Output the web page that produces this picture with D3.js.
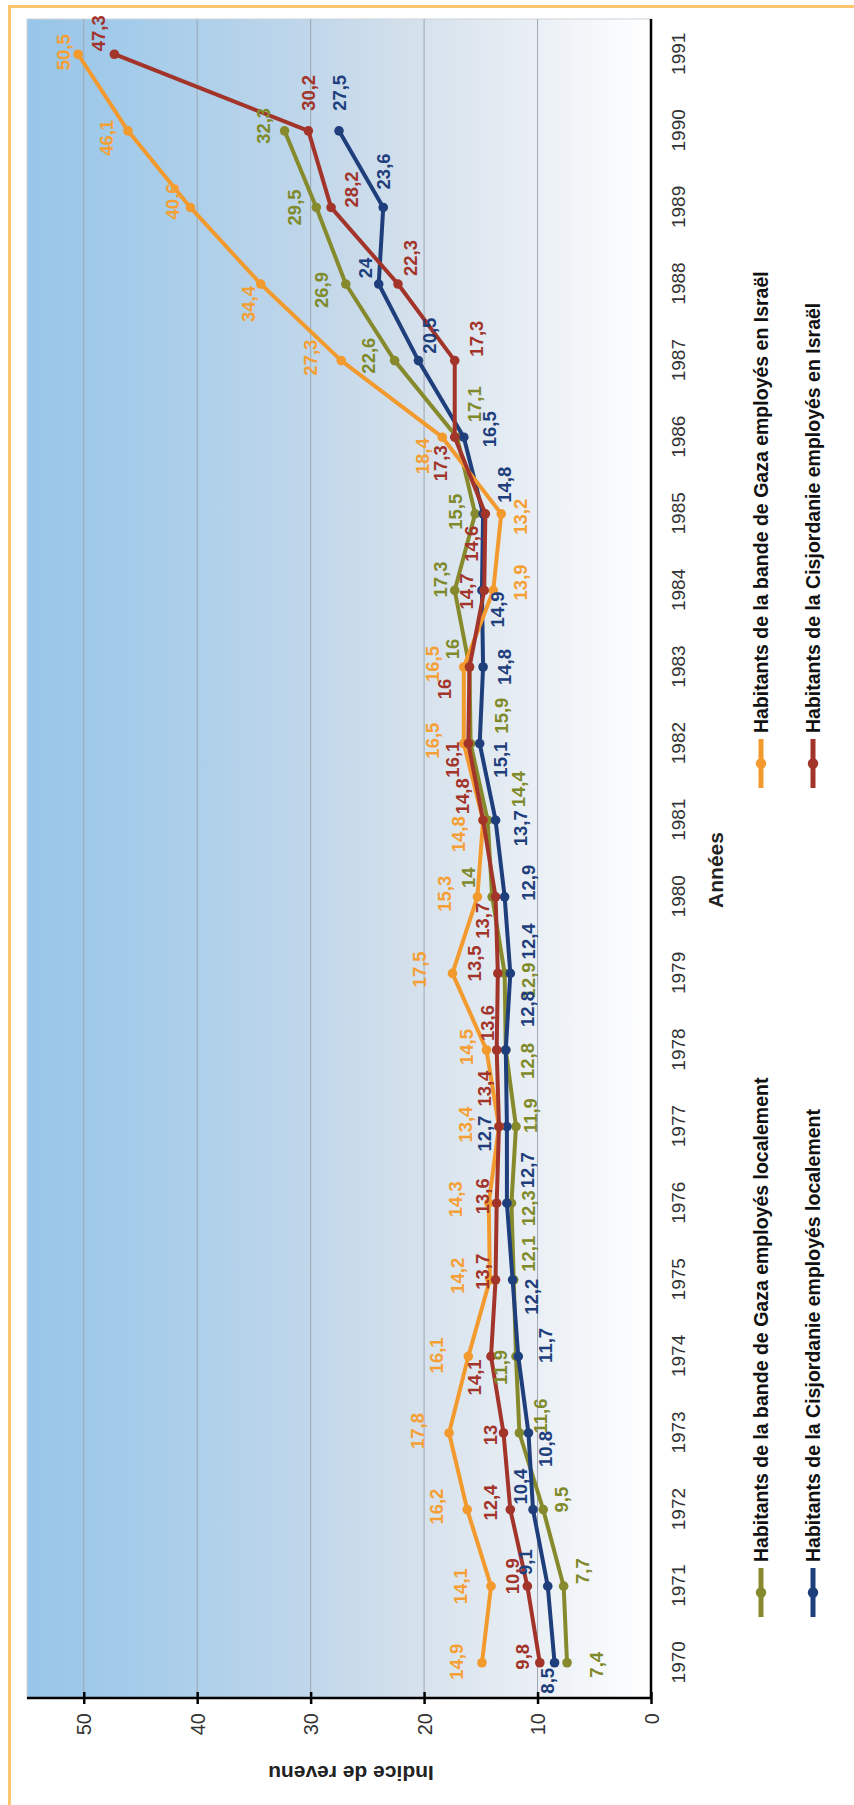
<!DOCTYPE html>
<html><head><meta charset="utf-8">
<script src="https://cdn.jsdelivr.net/npm/d3@7"></script>
<style>html,body{margin:0;padding:0;background:#fff}svg{display:block}</style>
</head><body><svg id="c" width="854" height="1805"></svg>
<script>
// ---------- DATA ----------
const years = [1970,1971,1972,1973,1974,1975,1976,1977,1978,1979,1980,1981,1982,1983,1984,1985,1986,1987,1988,1989,1990,1991];
const valueTicks = [0,10,20,30,40,50];
const seriesNames = [
  "Habitants de la bande de Gaza employés localement",
  "Habitants de la Cisjordanie employés localement",
  "Habitants de la bande de Gaza employés en Israël",
  "Habitants de la Cisjordanie employés en Israël"
];
const gazaLocal   = [7.4,7.7,9.5,11.6,11.9,12.1,12.3,11.9,12.8,12.9,14,14.4,15.9,16,17.3,15.5,17.1,22.6,26.9,29.5,32.3,null];
const cisLocal    = [8.5,9.1,10.4,10.8,11.7,12.2,12.7,12.7,12.8,12.4,12.9,13.7,15.1,14.8,14.9,14.8,16.5,20.5,24,23.6,27.5,null];
const gazaIsrael  = [14.9,14.1,16.2,17.8,16.1,14.2,14.3,13.4,14.5,17.5,15.3,14.8,16.5,16.5,13.9,13.2,18.4,27.3,34.4,40.6,46.1,50.5];
const cisIsrael   = [9.8,10.9,12.4,13,14.1,13.7,13.6,13.4,13.6,13.5,13.7,14.8,16.1,16,14.7,14.6,17.3,17.3,22.3,28.2,30.2,47.3];

// label placement offsets (as seen on the page: [dx, dy]) — layout only
const offGazaLocal  = [[29,2],[19,-15],[18,-10],[21,-17],[-15,11],[15,-26],[17,5],[15,-11],[22,11],[24,7],[-24,-19],[31,-31],[31,-28],[-17,-18],[-14,-11],[-20,-2],[18,-33],[-26,-5],[-24,6],[-22,0],[-21,-5],[0,0]];
const offCisLocal   = [[-7,18],[-22,-24],[-13,-23],[17,16],[27,-11],[19,17],[21,-33],[-22,7],[22,-41],[18,-32],[24,-14],[25,8],[21,16],[21,0],[16,19],[21,-29],[26,-8],[11,-25],[-13,-16],[0,-36],[0,-38],[0,0]];
const offGazaIsrael = [[-25,-1],[-31,0],[-31,-3],[-32,-2],[-32,-1],[-32,-4],[-33,-4],[-33,-2],[-20,-3],[-33,-4],[-33,-3],[-25,14],[-31,-3],[-31,-3],[27,-8],[19,3],[-20,19],[-31,-3],[-12,20],[-18,-6],[-21,7],[-15,-2]];
const offCisIsrael  = [[-17,-6],[-15,-10],[-20,-7],[-13,2],[-17,21],[-13,-8],[-14,-7],[-14,-38],[-9,-27],[-23,-10],[-13,24],[-21,-24],[-16,16],[-25,22],[-18,1],[-14,30],[-14,26],[22,-22],[13,-26],[20,-18],[0,-38],[-16,-21]];

const colors = ["#878a2c", "#1f3e7c", "#f29a2e", "#a2342a"];
const labelColors = ["#7f8a2a", "#1f3e7c", "#f5a036", "#a2342a"];

const series = [
  {name: seriesNames[0], values: gazaLocal,  off: offGazaLocal,  color: colors[0], lc: labelColors[0]},
  {name: seriesNames[1], values: cisLocal,   off: offCisLocal,   color: colors[1], lc: labelColors[1]},
  {name: seriesNames[2], values: gazaIsrael, off: offGazaIsrael, color: colors[2], lc: labelColors[2]},
  {name: seriesNames[3], values: cisIsrael,  off: offCisIsrael,  color: colors[3], lc: labelColors[3]}
];

// ---------- DRAW ----------
const FONT = "Arial, 'Liberation Sans', Helvetica, sans-serif";
const svg = d3.select("#c");
svg.append("rect").attr("width", 854).attr("height", 1805).attr("fill", "#fff");
svg.append("path").attr("d", "M854,6.5H9.5V1805").attr("fill", "none")
   .attr("stroke", "#ffc56f").attr("stroke-width", 3);

// chart is drawn in its natural orientation then turned a quarter-turn counter-clockwise
const g = svg.append("g").attr("transform", "translate(0,1805) rotate(-90)");
const PX0 = 107, PX1 = 1786, PY0 = 27, PY1 = 651;

const x = d3.scalePoint().domain(years).range([PX0, PX1]).padding(0.46);
const y = d3.scaleLinear().domain([0, 55]).range([PY1, PY0]);

const defs = svg.append("defs");
const grad = defs.append("linearGradient").attr("id", "bg").attr("x1", 0).attr("y1", 0).attr("x2", 0).attr("y2", 1);
[[0, "#98c5e8"], [0.18, "#a5ccea"], [0.4, "#bad4ea"], [0.6, "#d2dfeb"], [0.8, "#e8eef4"], [1, "#ffffff"]]
  .forEach(([o, c]) => grad.append("stop").attr("offset", o).attr("stop-color", c));

g.append("rect").attr("x", PX0).attr("y", PY0).attr("width", PX1 - PX0).attr("height", PY1 - PY0)
  .attr("fill", "url(#bg)").attr("stroke", "#cdd3d9").attr("stroke-width", 1);

// grid
g.append("g").selectAll("line").data(valueTicks.filter(d => d > 0)).join("line")
  .attr("x1", PX0).attr("x2", PX1).attr("y1", d => y(d)).attr("y2", d => y(d))
  .attr("stroke", "#9ba6b1").attr("stroke-width", 1);

// value axis
const ya = g.append("g").attr("transform", `translate(${PX0},0)`)
  .call(d3.axisLeft(y).tickValues(valueTicks).tickSizeOuter(0).tickFormat(d3.format("d")));
ya.select(".domain").attr("stroke", "#000").attr("stroke-width", 2.5).attr("d", `M0,${PY1}V${PY0}`);
ya.selectAll(".tick line").attr("x1", -6).attr("x2", 6).attr("stroke", "#000").attr("stroke-width", 2.5);
ya.selectAll(".tick text").attr("x", -15).attr("dy", null).attr("dominant-baseline", "central")
  .attr("font-size", 20).attr("font-family", FONT).attr("fill", "#333");

// year axis
const xa = g.append("g").attr("transform", `translate(0,${PY1})`)
  .call(d3.axisBottom(x).tickSize(0));
xa.select(".domain").attr("stroke", "#000").attr("stroke-width", 2.5).attr("d", `M${PX0},0H${PX1}`);
xa.selectAll(".tick text").attr("y", 27).attr("dy", null).attr("dominant-baseline", "central")
  .attr("font-size", 19).attr("font-family", FONT).attr("fill", "#333");

// titles
g.append("text").attr("x", 935).attr("y", 715).attr("text-anchor", "middle").attr("dominant-baseline", "central")
  .attr("font-family", FONT).attr("font-weight", "bold").attr("font-size", 21).attr("fill", "#222").text("Années");
g.append("text").attr("transform", "translate(32,351) rotate(-90)").attr("text-anchor", "middle").attr("dominant-baseline", "central")
  .attr("font-family", FONT).attr("font-weight", "bold").attr("font-size", 21).attr("fill", "#222").text("Indice de revenu");

// lines + markers
const line = d3.line().defined(d => d.v != null).x(d => x(d.year)).y(d => y(d.v));
series.forEach(s => {
  const pts = years.map((yr, i) => ({year: yr, v: s.values[i], off: s.off[i]}));
  s.pts = pts;
  g.append("path").datum(pts).attr("d", line).attr("fill", "none").attr("stroke", s.color)
    .attr("stroke-width", 4).attr("stroke-linejoin", "round").attr("stroke-linecap", "round");
  g.append("g").selectAll("circle").data(pts.filter(d => d.v != null)).join("circle")
    .attr("cx", d => x(d.year)).attr("cy", d => y(d.v)).attr("r", 4.8).attr("fill", s.color);
});
// data labels
series.forEach(s => {
  g.append("g").selectAll("text").data(s.pts.filter(d => d.v != null)).join("text")
    .attr("x", d => x(d.year) - d.off[1]).attr("y", d => y(d.v) + d.off[0])
    .attr("text-anchor", "middle").attr("dominant-baseline", "central")
    .attr("font-family", FONT).attr("font-weight", "bold").attr("font-size", 18.5).attr("fill", s.lc)
    .text(d => String(d.v).replace(".", ","));
});

// legend
const legendItems = [
  {s: series[0], lx: 188, ly: 761},
  {s: series[1], lx: 188, ly: 813},
  {s: series[2], lx: 1017, ly: 761},
  {s: series[3], lx: 1017, ly: 813}
];
const lg = g.append("g");
legendItems.forEach(it => {
  lg.append("line").attr("x1", it.lx).attr("x2", it.lx + 49).attr("y1", it.ly).attr("y2", it.ly)
    .attr("stroke", it.s.color).attr("stroke-width", 5);
  lg.append("circle").attr("cx", it.lx + 24.5).attr("cy", it.ly).attr("r", 5.2).attr("fill", it.s.color);
  lg.append("text").attr("x", it.lx + 55).attr("y", it.ly).attr("dominant-baseline", "central")
    .attr("font-family", FONT).attr("font-weight", "bold").attr("font-size", 19.5).attr("fill", "#111")
    .text(it.s.name);
});
</script></body></html>
